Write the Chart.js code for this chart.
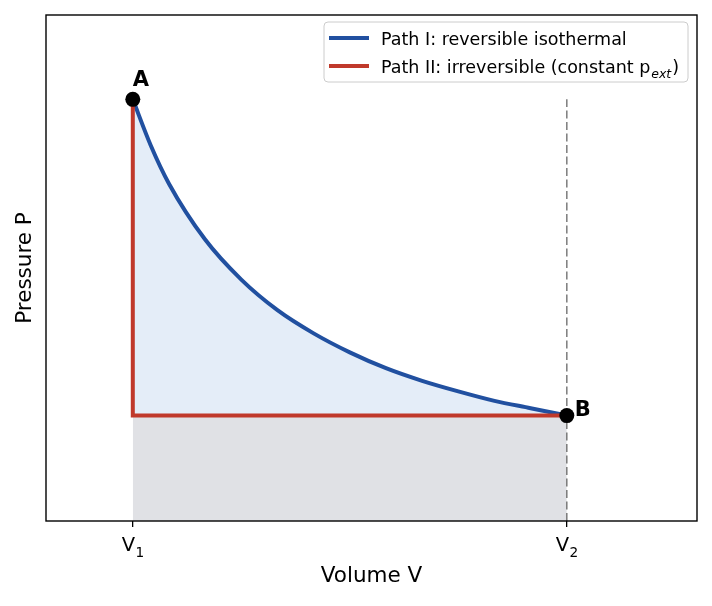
<!DOCTYPE html>
<html>
<head>
<meta charset="utf-8">
<script src="https://cdn.jsdelivr.net/npm/chart.js@4"></script>
<style>
  body { margin: 0; background: #fff; }
  #box { width: 712px; height: 606px; }
</style>
</head>
<body>
<div id="box"><canvas id="pvChart" width="712" height="606"></canvas></div>
<script>
// isotherm (V in units of V1, P in units of P at B)
const volume = [1, 1.125, 1.25, 1.5, 1.75, 2, 2.25, 2.5, 2.75, 3, 3.25, 3.5, 3.75, 4];
const pressure = [4, 3.56, 3.2, 2.67, 2.29, 2, 1.78, 1.6, 1.45, 1.33, 1.23, 1.14, 1.07, 1];

// irreversible path: drop at V1, then expand at constant p_ext
const pathTwoV = [1, 1, 4];
const pathTwoP = [4, 1, 1];

// dashed guide at V2
const guideV = [4, 4];
const guideP = [0, 4];

// states A and B
const markerV = [1, 4];
const markerP = [4, 1];
const markerLabels = ['A', 'B'];

// tick labels: V with subscript index
const tickValues = [1, 4];
const tickLabels = ['V', 'V'];
const tickSubs = ['1', '2'];

const legendLabels = ['Path I: reversible isothermal', 'Path II: irreversible (constant p'];

const blue = '#2150a0';
const red = '#c0392b';
const font = 'DejaVu Sans';

const toXY = (xs, ys) => xs.map((x, i) => ({x: x, y: ys[i]}));

// frame, tick labels, A/B labels and the legend box
const extras = {
  id: 'extras',
  afterDatasetsDraw(chart) {
    const ctx = chart.ctx;
    const area = chart.chartArea;
    ctx.save();

    ctx.strokeStyle = '#000';
    ctx.lineWidth = 1.4;
    ctx.strokeRect(area.left, area.top, area.right - area.left, area.bottom - area.top);

    // x tick labels with real subscripts
    const xs = chart.scales.x;
    ctx.fillStyle = '#000';
    ctx.textBaseline = 'alphabetic';
    tickValues.forEach((v, i) => {
      const px = xs.getPixelForValue(v);
      ctx.font = '19.5px "' + font + '"';
      const w1 = ctx.measureText(tickLabels[i]).width;
      ctx.font = '13.7px "' + font + '"';
      const w2 = ctx.measureText(tickSubs[i]).width;
      const x0 = px - (w1 + w2) / 2;
      ctx.font = '19.5px "' + font + '"';
      ctx.fillText(tickLabels[i], x0, 551);
      ctx.font = '13.7px "' + font + '"';
      ctx.fillText(tickSubs[i], x0 + w1 + 0.5, 557);
    });

    const pts = chart.getDatasetMeta(0).data;
    ctx.font = 'bold 21px "' + font + '"';
    ctx.fillText(markerLabels[0], pts[0].x + 0, pts[0].y - 13);
    ctx.fillText(markerLabels[1], pts[1].x + 8, pts[1].y + 0);

    // legend
    const lx = 324, ly = 22, lw = 364, lh = 60;
    ctx.beginPath();
    ctx.roundRect(lx, ly, lw, lh, 4);
    ctx.fillStyle = 'rgba(255,255,255,0.8)';
    ctx.fill();
    ctx.strokeStyle = '#cccccc';
    ctx.lineWidth = 1;
    ctx.stroke();

    const rows = [45, 73];
    const colors = [blue, red];
    rows.forEach((base, i) => {
      ctx.strokeStyle = colors[i];
      ctx.lineWidth = 4;
      ctx.beginPath();
      ctx.moveTo(329, base - 7);
      ctx.lineTo(369, base - 7);
      ctx.stroke();
      ctx.fillStyle = '#000';
      ctx.font = '17.5px "' + font + '"';
      ctx.fillText(legendLabels[i], 381, base);
    });
    let tx = 381 + ctx.measureText(legendLabels[1]).width;
    ctx.font = 'italic 12.5px "' + font + '"';
    ctx.fillText('ext', tx + 1, rows[1] + 5);
    tx += 1 + ctx.measureText('ext').width;
    ctx.font = '17.5px "' + font + '"';
    ctx.fillText(')', tx + 1, rows[1]);

    ctx.restore();
  }
};

const ctx = document.getElementById('pvChart').getContext('2d');

const pvChart = new Chart(ctx, {
  type: 'line',
  data: {
    datasets: [
      {
        label: 'states',
        data: toXY(markerV, markerP),
        showLine: false,
        pointRadius: 7.5,
        pointBackgroundColor: '#000',
        pointBorderWidth: 0,
        clip: false
      },
      {
        label: 'guide',
        data: toXY(guideV, guideP),
        borderColor: 'rgba(90,90,90,0.75)',
        borderWidth: 1.6,
        borderDash: [8, 3.5],
        pointRadius: 0,
        fill: false
      },
      {
        label: 'Path II',
        data: toXY(pathTwoV, pathTwoP),
        borderColor: red,
        borderWidth: 4,
        pointRadius: 0,
        tension: 0,
        fill: false
      },
      {
        label: 'Path I',
        data: toXY(volume, pressure),
        borderColor: blue,
        borderWidth: 4,
        pointRadius: 0,
        cubicInterpolationMode: 'monotone',
        fill: {value: 1},
        backgroundColor: 'rgb(228,237,248)'
      },
      {
        label: 'work',
        data: toXY(pathTwoV, pathTwoP),
        borderWidth: 0,
        borderColor: 'rgba(0,0,0,0)',
        pointRadius: 0,
        fill: 'origin',
        backgroundColor: 'rgb(224,225,229)'
      }
    ]
  },
  options: {
    responsive: false,
    animation: false,
    layout: { padding: { top: 15, right: 15, left: 0, bottom: 0 } },
    plugins: {
      legend: { display: false },
      tooltip: { enabled: false }
    },
    scales: {
      x: {
        type: 'linear',
        min: 0.4,
        max: 4.9,
        afterBuildTicks: (scale) => { scale.ticks = tickValues.map(v => ({value: v})); },
        afterFit: (scale) => { scale.height = 85; },
        border: { display: false },
        grid: { drawOnChartArea: false, drawTicks: true, tickLength: 6, color: '#000', lineWidth: 1.3 },
        ticks: { display: false, autoSkip: false },
        title: {
          display: true,
          text: 'Volume V',
          color: '#000',
          font: { family: font, size: 21.5 },
          padding: { top: 0, bottom: 17 }
        }
      },
      y: {
        min: 0,
        max: 4.8,
        afterFit: (scale) => { scale.width = 46; },
        border: { display: false },
        grid: { display: false },
        ticks: { display: false },
        title: {
          display: true,
          text: 'Pressure P',
          color: '#000',
          font: { family: font, size: 21.5 },
          padding: { top: 13, bottom: 0 }
        }
      }
    }
  },
  plugins: [extras]
});
</script>
</body>
</html>
